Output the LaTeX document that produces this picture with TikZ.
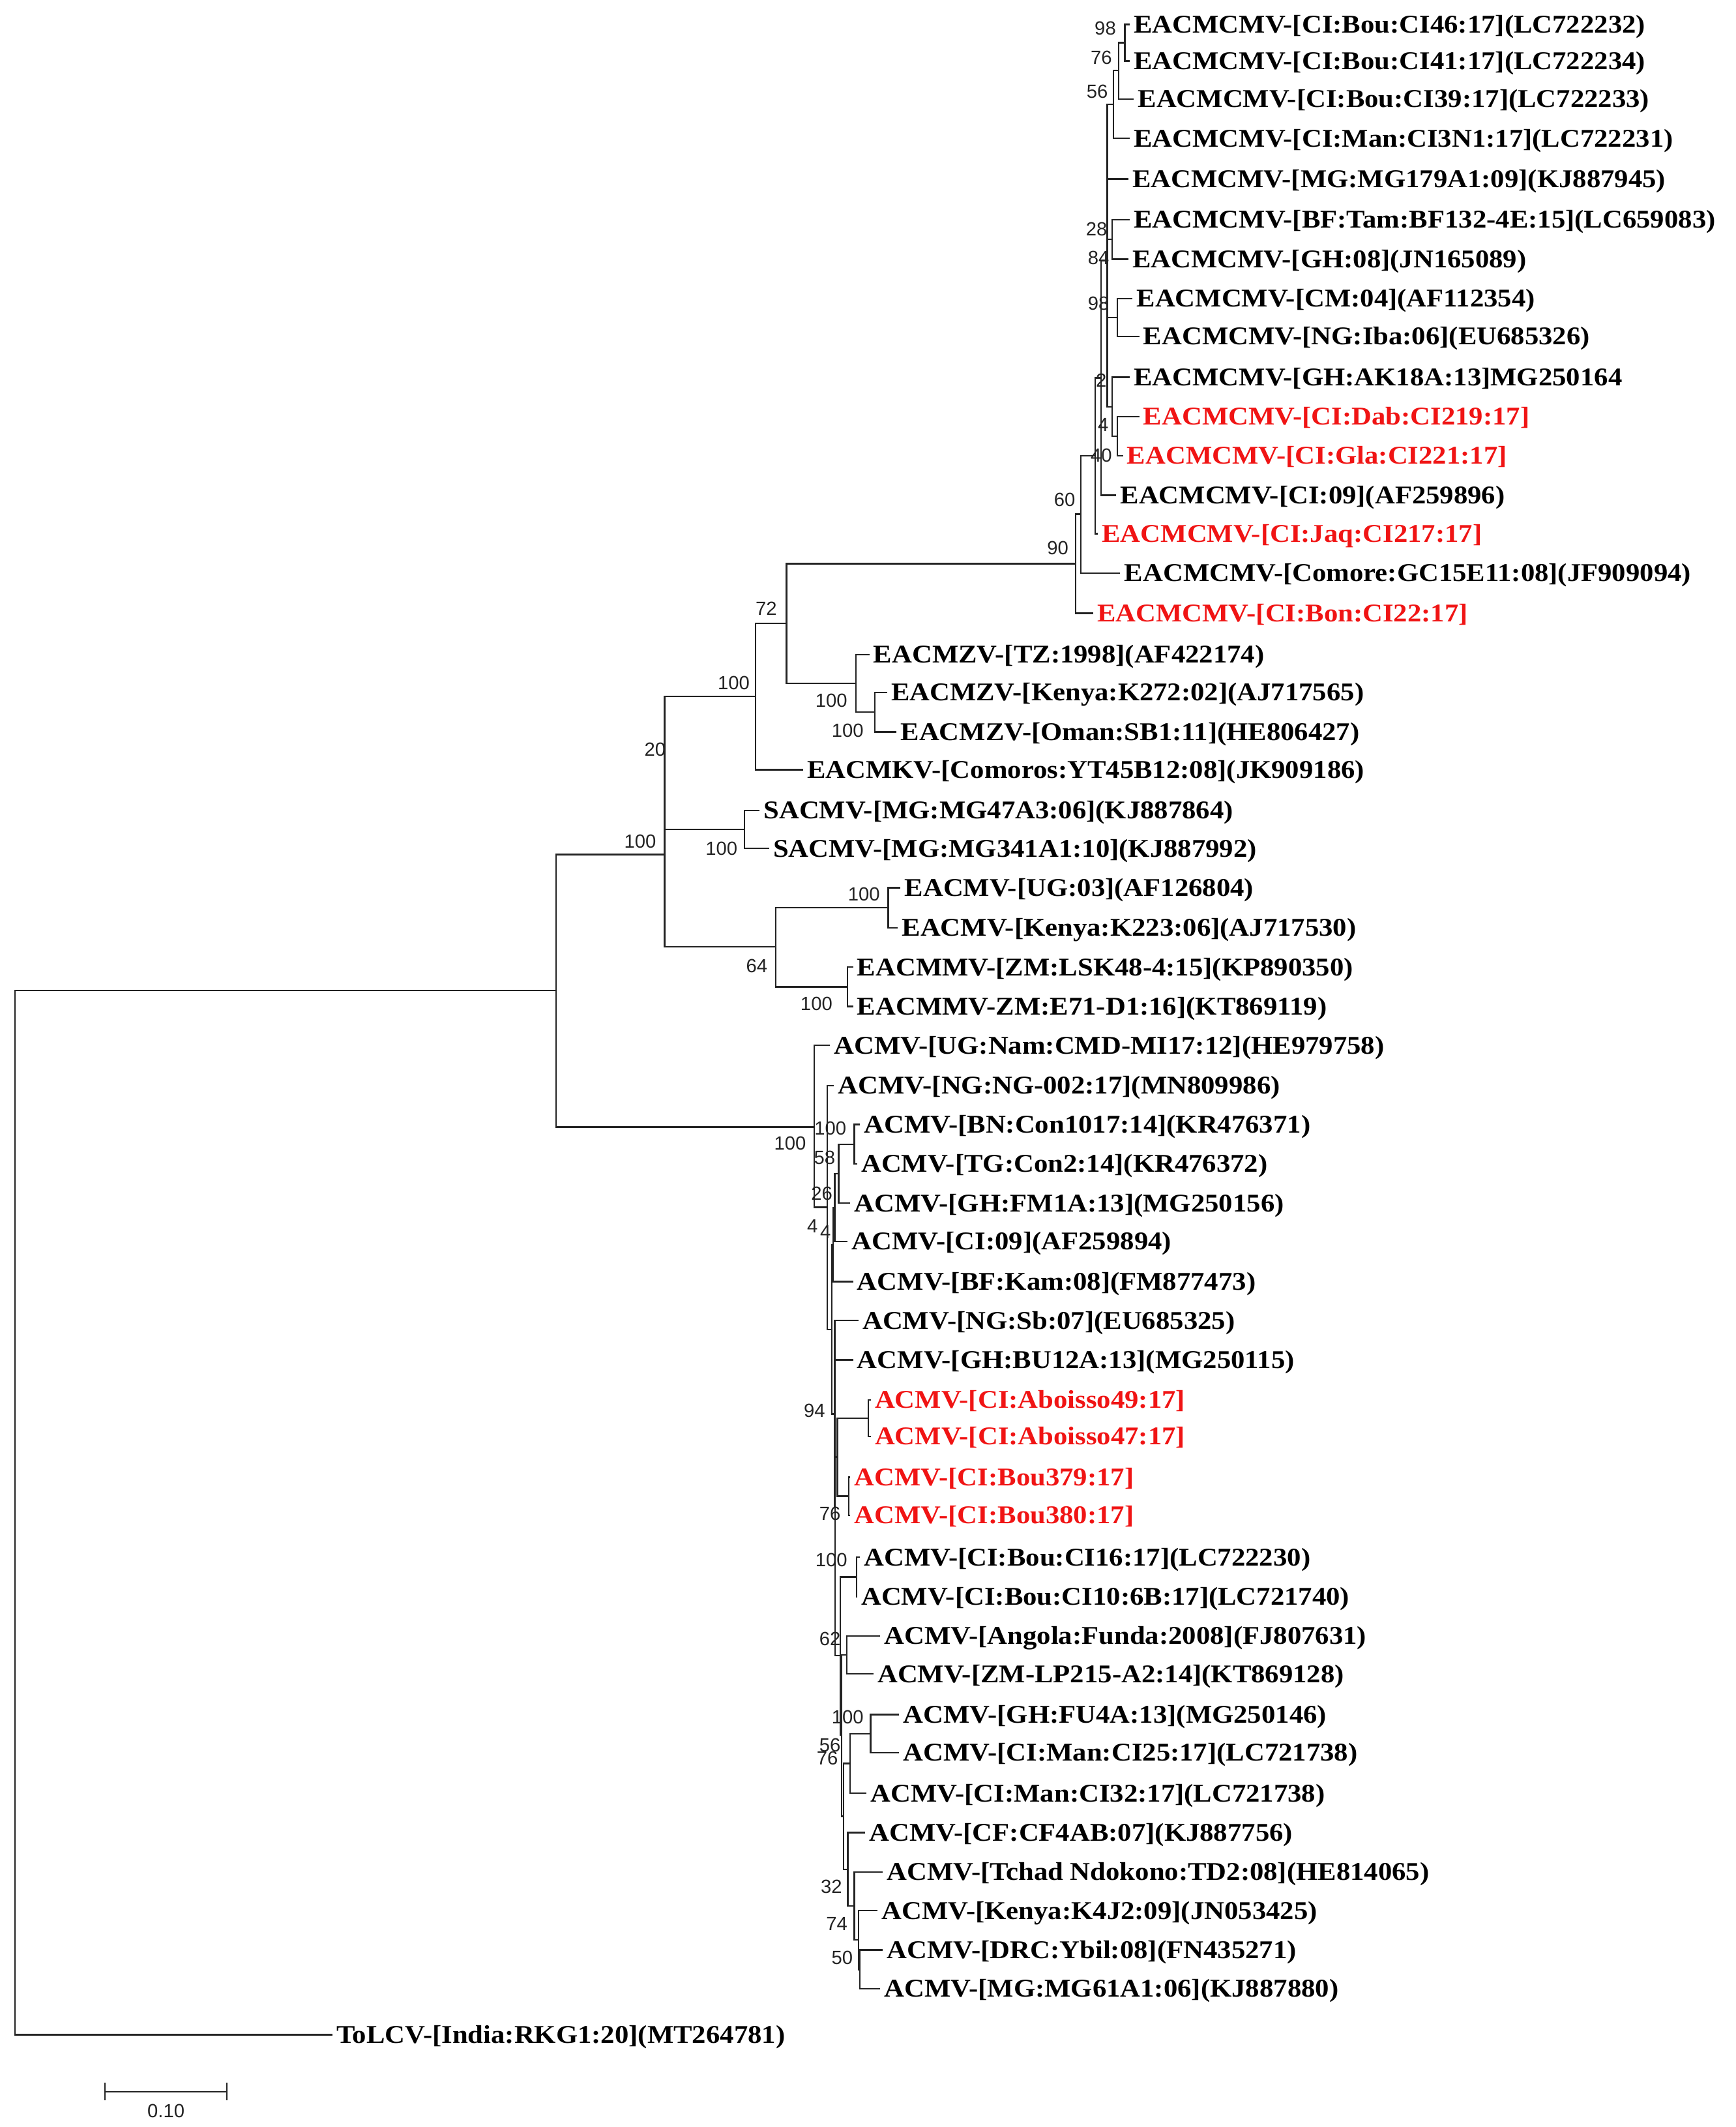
\documentclass[tikz,border=0pt]{standalone}
\usepackage{fontspec}
\newfontfamily\labfamily[FakeStretch=1.09]{Liberation Serif}
\newfontfamily\bsfamily{Liberation Sans}
\definecolor{labred}{RGB}{240,20,20}
\definecolor{brc}{RGB}{35,35,35}
\tikzset{
  br/.style={draw=brc, line width=1.6pt},
  leaf/.style={anchor=west, inner xsep=4.2pt, inner ysep=0pt, text height=17.6pt, text depth=0pt,
    font=\fontsize{26.8pt}{30pt}\labfamily\bfseries, text=black},
  rleaf/.style={leaf, text=labred},
  bs/.style={inner sep=0pt, font=\fontsize{20pt}{22pt}\bsfamily, text=brc},
}
\begin{document}
\begin{tikzpicture}[x=0.05cm, y=-0.05cm]
\useasboundingbox (0,0) rectangle (1280,1568);
% ---------------- leaves ----------------
\node[leaf]  (L1)  at (833,18)    {EACMCMV-[CI:Bou:CI46:17](LC722232)};
\node[leaf]  (L2)  at (833,45)    {EACMCMV-[CI:Bou:CI41:17](LC722234)};
\node[leaf]  (L3)  at (836,73)    {EACMCMV-[CI:Bou:CI39:17](LC722233)};
\node[leaf]  (L4)  at (833,102)   {EACMCMV-[CI:Man:CI3N1:17](LC722231)};
\node[leaf]  (L5)  at (832,132)   {EACMCMV-[MG:MG179A1:09](KJ887945)};
\node[leaf]  (L6)  at (833,162)   {EACMCMV-[BF:Tam:BF132-4E:15](LC659083)};
\node[leaf]  (L7)  at (832,191)   {EACMCMV-[GH:08](JN165089)};
\node[leaf]  (L8)  at (835,220)   {EACMCMV-[CM:04](AF112354)};
\node[leaf]  (L9)  at (840,248)   {EACMCMV-[NG:Iba:06](EU685326)};
\node[leaf]  (L10) at (833,278)   {EACMCMV-[GH:AK18A:13]MG250164};
\node[rleaf] (L11) at (840,307)   {EACMCMV-[CI:Dab:CI219:17]};
\node[rleaf] (L12) at (828,336)   {EACMCMV-[CI:Gla:CI221:17]};
\node[leaf]  (L13) at (823,365)   {EACMCMV-[CI:09](AF259896)};
\node[rleaf] (L14) at (809.5,393.5) {EACMCMV-[CI:Jaq:CI217:17]};
\node[leaf]  (L15) at (826,422.5) {EACMCMV-[Comore:GC15E11:08](JF909094)};
\node[rleaf] (L16) at (806,452)   {EACMCMV-[CI:Bon:CI22:17]};
\node[leaf]  (L17) at (641,482.5) {EACMZV-[TZ:1998](AF422174)};
\node[leaf]  (L18) at (654,510.5) {EACMZV-[Kenya:K272:02](AJ717565)};
\node[leaf]  (L19) at (661,539.5) {EACMZV-[Oman:SB1:11](HE806427)};
\node[leaf]  (L20) at (592,567.5) {EACMKV-[Comoros:YT45B12:08](JK909186)};
\node[leaf]  (L21) at (560,597.5) {SACMV-[MG:MG47A3:06](KJ887864)};
\node[leaf]  (L22) at (567,625.5) {SACMV-[MG:MG341A1:10](KJ887992)};
\node[leaf]  (L23) at (664,654.5) {EACMV-[UG:03](AF126804)};
\node[leaf]  (L24) at (662,684)   {EACMV-[Kenya:K223:06](AJ717530)};
\node[leaf]  (L25) at (629,713)   {EACMMV-[ZM:LSK48-4:15](KP890350)};
\node[leaf]  (L26) at (629,742)   {EACMMV-ZM:E71-D1:16](KT869119)};
\node[leaf]  (L27) at (612,770.6) {ACMV-[UG:Nam:CMD-MI17:12](HE979758)};
\node[leaf]  (L28) at (615,800.3) {ACMV-[NG:NG-002:17](MN809986)};
\node[leaf]  (L29) at (634,829)   {ACMV-[BN:Con1017:14](KR476371)};
\node[leaf]  (L30) at (632,858)   {ACMV-[TG:Con2:14](KR476372)};
\node[leaf]  (L31) at (627,887)   {ACMV-[GH:FM1A:13](MG250156)};
\node[leaf]  (L32) at (625,915.2) {ACMV-[CI:09](AF259894)};
\node[leaf]  (L33) at (629,944.8) {ACMV-[BF:Kam:08](FM877473)};
\node[leaf]  (L34) at (633,973.5) {ACMV-[NG:Sb:07](EU685325)};
\node[leaf]  (L35) at (629,1002.4) {ACMV-[GH:BU12A:13](MG250115)};
\node[rleaf] (L36) at (642,1032)  {ACMV-[CI:Aboisso49:17]};
\node[rleaf] (L37) at (642,1059)  {ACMV-[CI:Aboisso47:17]};
\node[rleaf] (L38) at (627,1089)  {ACMV-[CI:Bou379:17]};
\node[rleaf] (L39) at (627,1117)  {ACMV-[CI:Bou380:17]};
\node[leaf]  (L40) at (634,1148)  {ACMV-[CI:Bou:CI16:17](LC722230)};
\node[leaf]  (L41) at (632,1177)  {ACMV-[CI:Bou:CI10:6B:17](LC721740)};
\node[leaf]  (L42) at (649,1206)  {ACMV-[Angola:Funda:2008](FJ807631)};
\node[leaf]  (L43) at (644,1234)  {ACMV-[ZM-LP215-A2:14](KT869128)};
\node[leaf]  (L44) at (663,1264)  {ACMV-[GH:FU4A:13](MG250146)};
\node[leaf]  (L45) at (663,1292)  {ACMV-[CI:Man:CI25:17](LC721738)};
\node[leaf]  (L46) at (639,1322)  {ACMV-[CI:Man:CI32:17](LC721738)};
\node[leaf]  (L47) at (638,1351)  {ACMV-[CF:CF4AB:07](KJ887756)};
\node[leaf]  (L48) at (651,1380)  {ACMV-[Tchad Ndokono:TD2:08](HE814065)};
\node[leaf]  (L49) at (647,1408.5) {ACMV-[Kenya:K4J2:09](JN053425)};
\node[leaf]  (L50) at (651,1437.5) {ACMV-[DRC:Ybil:08](FN435271)};
\node[leaf]  (L51) at (649,1466)  {ACMV-[MG:MG61A1:06](KJ887880)};
\node[leaf]  (L52) at (245,1500)  {ToLCV-[India:RKG1:20](MT264781)};
% ---------------- internal nodes (upper) ----------------
\coordinate (n98)  at (829.4,31.5);
\coordinate (n76)  at (825,52);
\coordinate (n56)  at (821,77);
\coordinate (n84)  at (816.5,192);
\coordinate (n28)  at (820,176.5);
\coordinate (nCN)  at (824,234);
\coordinate (nAK)  at (820,300);
\coordinate (nDG)  at (824,321.5);
\coordinate (n2)   at (812,278.5);
\coordinate (n40)  at (807.7,336);
\coordinate (n60)  at (797,379);
\coordinate (n90)  at (793,415.5);
\coordinate (n72)  at (580,459.6);
\coordinate (nZV)  at (631,503.75);
\coordinate (nZV2) at (645,525);
\coordinate (nC)   at (557,513.5);
\coordinate (nSA)  at (549,611.5);
\coordinate (nB)   at (490,562.5);
\coordinate (n64)  at (572,698);
\coordinate (nEV)  at (655,669);
\coordinate (nMM)  at (625,727.5);
\coordinate (nA)   at (490,630);
\coordinate (nBig) at (410,730);
\coordinate (root) at (11,1115);
% ---------------- internal nodes (ACMV) ----------------
\coordinate (R)    at (600.3,830.8);
\coordinate (S)    at (610,890);
\coordinate (T)    at (613.5,980);
\coordinate (Y)    at (614.2,917.5);
\coordinate (X)    at (615.5,890.2);
\coordinate (W)    at (618.4,865.3);
\coordinate (nBT)  at (630,843.5);
\coordinate (U)    at (615.5,1042.4);
\coordinate (M)    at (615.8,1111);
\coordinate (V)    at (617.5,1074);
\coordinate (nAb)  at (640.3,1045.5);
\coordinate (nBou) at (625.9,1103);
\coordinate (N)    at (619.5,1220.6);
\coordinate (nCB)  at (631.5,1162.5);
\coordinate (K)    at (620.6,1279);
\coordinate (nAn)  at (624.3,1220);
\coordinate (Lc)   at (621.9,1339);
\coordinate (Q)    at (626.7,1300);
\coordinate (nFU)  at (641.9,1278);
\coordinate (CFp)  at (625.1,1378);
\coordinate (n32)  at (629.9,1405);
\coordinate (n74)  at (633.1,1430);
\coordinate (n50)  at (633.9,1452);
% ---------------- branches ----------------
\draw[br] (n98) |- (L1.west) (n98) |- (L2.west);
\draw[br] (n76) |- (n98) (n76) |- (L3.west);
\draw[br] (n56) |- (n76) (n56) |- (L4.west);
\draw[br] (n84) |- (n56) (n84) |- (L5.west) (n84) |- (n28) (n84) |- (nCN) (n84) |- (nAK);
\draw[br] (n28) |- (L6.west) (n28) |- (L7.west);
\draw[br] (nCN) |- (L8.west) (nCN) |- (L9.west);
\draw[br] (nAK) |- (L10.west) (nAK) |- (nDG);
\draw[br] (nDG) |- (L11.west) (nDG) |- (L12.west);
\draw[br] (n2) |- (n84) (n2) |- (L13.west);
\draw[br] (n40) |- (n2) (n40) |- (L14.west);
\draw[br] (n60) |- (n40) (n60) |- (L15.west);
\draw[br] (n90) |- (n60) (n90) |- (L16.west);
\draw[br] (n72) |- (n90) (n72) |- (nZV);
\draw[br] (nZV) |- (L17.west) (nZV) |- (nZV2);
\draw[br] (nZV2) |- (L18.west) (nZV2) |- (L19.west);
\draw[br] (nC) |- (n72) (nC) |- (L20.west);
\draw[br] (nSA) |- (L21.west) (nSA) |- (L22.west);
\draw[br] (nB) |- (nC) (nB) |- (nSA);
\draw[br] (nEV) |- (L23.west) (nEV) |- (L24.west);
\draw[br] (nMM) |- (L25.west) (nMM) |- (L26.west);
\draw[br] (n64) |- (nEV) (n64) |- (nMM);
\draw[br] (nA) |- (nB) (nA) |- (n64);
\draw[br] (nBig) |- (nA) (nBig) |- (R);
\draw[br] (root) |- (nBig) (root) |- (L52.west);
\draw[br] (R) |- (L27.west) (R) |- (S);
\draw[br] (S) |- (L28.west) (S) |- (T);
\draw[br] (T) |- (Y) (T) |- (U);
\draw[br] (Y) |- (X) (Y) |- (L33.west);
\draw[br] (X) |- (W) (X) |- (L32.west);
\draw[br] (W) |- (nBT) (W) |- (L31.west);
\draw[br] (nBT) |- (L29.west) (nBT) |- (L30.west);
\draw[br] (U) |- (L34.west) (U) |- (M);
\draw[br] (M) |- (L35.west) (M) |- (V) (M) |- (N);
\draw[br] (V) |- (nAb) (V) |- (nBou);
\draw[br] (nAb) |- (L36.west) (nAb) |- (L37.west);
\draw[br] (nBou) |- (L38.west) (nBou) |- (L39.west);
\draw[br] (N) |- (nCB) (N) |- (K);
\draw[br] (nCB) |- (L40.west) (nCB) |- (L41.west);
\draw[br] (K) |- (nAn) (K) |- (Lc);
\draw[br] (nAn) |- (L42.west) (nAn) |- (L43.west);
\draw[br] (Lc) |- (Q) (Lc) |- (CFp);
\draw[br] (Q) |- (nFU) (Q) |- (L46.west);
\draw[br] (nFU) |- (L44.west) (nFU) |- (L45.west);
\draw[br] (CFp) |- (L47.west) (CFp) |- (n32);
\draw[br] (n32) |- (L48.west) (n32) |- (n74);
\draw[br] (n74) |- (L49.west) (n74) |- (n50);
\draw[br] (n50) |- (L50.west) (n50) |- (L51.west);
% ---------------- bootstrap values ----------------
\node[bs] (b1)  at (815,20.8)   {98};
\node[bs] (b2)  at (812,42.5)   {76};
\node[bs] (b3)  at (809,67.3)   {56};
\node[bs] (b4)  at (808.6,169)  {28};
\node[bs] (b5)  at (810,190)    {84};
\node[bs] (b6)  at (810,223.6)  {98};
\node[bs] (b7)  at (812,280.5)  {2};
\node[bs] (b8)  at (813.4,313.3) {4};
\node[bs] (b9)  at (812,335.8)  {40};
\node[bs] (b10) at (785,368.6)  {60};
\node[bs] (b11) at (780,404)    {90};
\node[bs] (b12) at (565,448.5)  {72};
\node[bs] (b13) at (541,503.5)  {100};
\node[bs] (b14) at (483,552.5)  {20};
\node[bs] (b15) at (472,620.5)  {100};
\node[bs] (b16) at (613,516.5)  {100};
\node[bs] (b17) at (625,538.5)  {100};
\node[bs] (b18) at (532,625.5)  {100};
\node[bs] (b19) at (637,659)    {100};
\node[bs] (b20) at (558,712)    {64};
\node[bs] (b21) at (602,740)    {100};
\node[bs] (b22) at (582.6,843)  {100};
\node[bs] (b23) at (612.3,831.8) {100};
\node[bs] (b24) at (608,853.5)  {58};
\node[bs] (b25) at (606,880)    {26};
\node[bs] (b26) at (599,904)    {4};
\node[bs] (b27) at (608.7,908)  {4};
\node[bs] (b28) at (600.5,1040) {94};
\node[bs] (b29) at (612,1116)   {76};
\node[bs] (b30) at (613,1150)   {100};
\node[bs] (b31) at (612,1208)   {62};
\node[bs] (b32) at (625,1266)   {100};
\node[bs] (b33) at (612,1286.5) {56};
\node[bs] (b34) at (610,1296)   {76};
\node[bs] (b35) at (613,1391)   {32};
\node[bs] (b36) at (617,1418)   {74};
\node[bs] (b37) at (621,1443)   {50};
% ---------------- scale bar ----------------
\coordinate (sbL)  at (77.3,1542);
\coordinate (sbR)  at (167.4,1542);
\coordinate (sbLt) at (77.3,1535.5);
\coordinate (sbLb) at (77.3,1548.5);
\coordinate (sbRt) at (167.4,1535.5);
\coordinate (sbRb) at (167.4,1548.5);
\draw[br] (sbL) -- (sbR);
\draw[br] (sbLt) -- (sbLb);
\draw[br] (sbRt) -- (sbRb);
\node[bs] (sbtxt) at (122.4,1556) {0.10};
\end{tikzpicture}
\end{document}
